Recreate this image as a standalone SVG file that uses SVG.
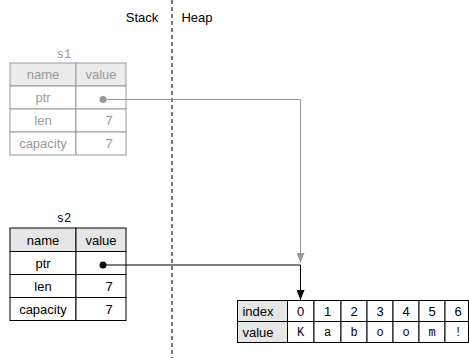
<svg xmlns="http://www.w3.org/2000/svg" width="469" height="358" viewBox="0 0 469 358">
<defs>
<style>
text{font-family:"Liberation Sans",Arial,sans-serif;font-size:13px;text-anchor:middle}
text.mono{font-family:"Liberation Mono","Courier New",monospace;font-size:12px}
.g rect{stroke:#999;fill:#fff;stroke-width:1}
.g rect.h{fill:#ebebeb}
.g text{fill:#999}
.b rect{stroke:#000;fill:#fff;stroke-width:1}
.b rect.h{fill:#e6e6e6}
.b text{fill:#000}
</style>
<marker id="ag" markerWidth="8" markerHeight="10" refX="4" refY="10" markerUnits="userSpaceOnUse" viewBox="0 0 8 10"><path d="M0,0 L8,0 L4,10 z" fill="#999"/></marker>
<marker id="ab" markerWidth="8" markerHeight="10" refX="4" refY="10" markerUnits="userSpaceOnUse" viewBox="0 0 8 10"><path d="M0,0 L8,0 L4,10 z" fill="#000"/></marker>
</defs>
<rect width="469" height="358" fill="#fff"/>
<line x1="172" y1="0" x2="172" y2="358" stroke="#777" stroke-width="2" stroke-dasharray="4,3"/>
<text x="142" y="22">Stack</text>
<text x="197" y="22">Heap</text>

<g id="s1" class="g">
<text class="mono" x="64" y="58">s1</text>
<rect class="h" x="10" y="63" width="66" height="23"/>
<rect class="h" x="76" y="63" width="50" height="23"/>
<rect x="10" y="86" width="66" height="23"/>
<rect x="76" y="86" width="50" height="23"/>
<rect x="10" y="109" width="66" height="23"/>
<rect x="76" y="109" width="50" height="23"/>
<rect x="10" y="132" width="66" height="23"/>
<rect x="76" y="132" width="50" height="23"/>
<text x="43" y="79">name</text>
<text x="101" y="79">value</text>
<text x="43" y="102">ptr</text>
<text x="43" y="125">len</text>
<text x="109" y="125">7</text>
<text x="43" y="148">capacity</text>
<text x="109" y="148">7</text>
<circle cx="103" cy="99.5" r="3.5" fill="#999"/>
</g>

<g id="s2" class="b">
<text class="mono" x="64" y="222">s2</text>
<rect class="h" x="10" y="228" width="66" height="23.5"/>
<rect class="h" x="76" y="228" width="50" height="23.5"/>
<rect x="10" y="251.5" width="66" height="23"/>
<rect x="76" y="251.5" width="50" height="23"/>
<rect x="10" y="274.5" width="66" height="23"/>
<rect x="76" y="274.5" width="50" height="23"/>
<rect x="10" y="297.5" width="66" height="23"/>
<rect x="76" y="297.5" width="50" height="23"/>
<text x="43" y="244.5">name</text>
<text x="101" y="244.5">value</text>
<text x="43" y="268">ptr</text>
<text x="43" y="291">len</text>
<text x="109" y="291">7</text>
<text x="43" y="314">capacity</text>
<text x="109" y="314">7</text>
<circle cx="103" cy="265" r="3.5" fill="#000"/>
</g>

<g id="heap" class="b">
<rect class="h" x="237.5" y="300.5" width="50" height="21"/>
<rect class="h" x="237.5" y="321.5" width="50" height="21"/>
<rect x="287.5" y="300.5" width="26.5" height="21"/>
<rect x="314" y="300.5" width="27" height="21"/>
<rect x="341" y="300.5" width="26" height="21"/>
<rect x="367" y="300.5" width="26" height="21"/>
<rect x="393" y="300.5" width="26" height="21"/>
<rect x="419" y="300.5" width="26" height="21"/>
<rect x="445" y="300.5" width="23.5" height="21"/>
<rect x="287.5" y="321.5" width="26.5" height="21"/>
<rect x="314" y="321.5" width="27" height="21"/>
<rect x="341" y="321.5" width="26" height="21"/>
<rect x="367" y="321.5" width="26" height="21"/>
<rect x="393" y="321.5" width="26" height="21"/>
<rect x="419" y="321.5" width="26" height="21"/>
<rect x="445" y="321.5" width="23.5" height="21"/>
<text x="258" y="316">index</text>
<text x="258" y="337">value</text>
<text x="300.5" y="316">0</text>
<text x="327.5" y="316">1</text>
<text x="354" y="316">2</text>
<text x="380" y="316">3</text>
<text x="406" y="316">4</text>
<text x="432" y="316">5</text>
<text x="458" y="316">6</text>
<text class="mono" x="300.5" y="336">K</text>
<text class="mono" x="327.5" y="336">a</text>
<text class="mono" x="354" y="336">b</text>
<text class="mono" x="380" y="336">o</text>
<text class="mono" x="406" y="336">o</text>
<text class="mono" x="432" y="336">m</text>
<text class="mono" x="458" y="336">!</text>
</g>

<g id="connectors" fill="none">
<path d="M103,99.5 H300.5 V263" stroke="#999" stroke-width="1" marker-end="url(#ag)"/>
<path d="M103,265 H300.5 V300" stroke="#000" stroke-width="1" marker-end="url(#ab)"/>
</g>
</svg>
